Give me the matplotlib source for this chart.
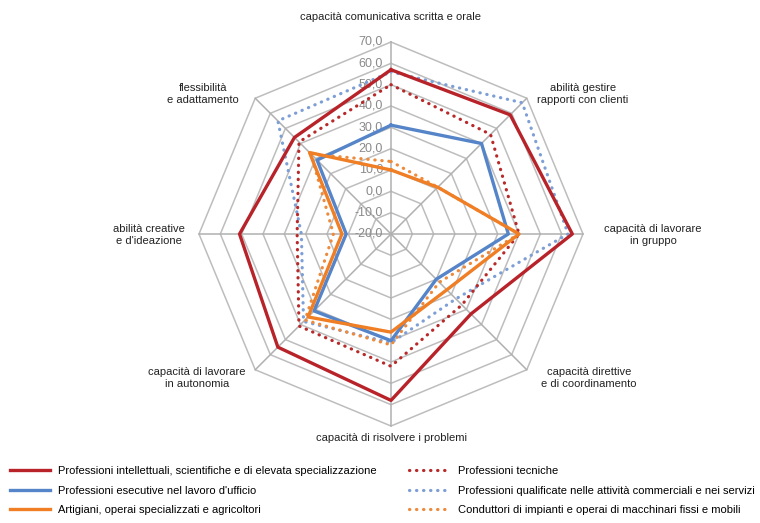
import numpy as np
import matplotlib.pyplot as plt

# competenze (assi del radar, in senso orario dall'alto)
categorie = [
    'capacità comunicativa scritta e orale',
    'abilità gestire\nrapporti con clienti',
    'capacità di lavorare\nin gruppo',
    'capacità direttive\ne di coordinamento',
    'capacità di risolvere i problemi',
    'capacità di lavorare\nin autonomia',
    "abilità creative\ne d'ideazione",
    'flessibilità\ne adattamento',
]

# valori
intellettuali = [57, 59, 65, 33, 58, 55, 51, 44]
tecniche = [50, 46, 40, 27, 42, 41, 24, 41]
esecutive = [31, 40, 35, 10, 30, 31, 1, 29]
qualificate = [56, 67, 63, 23, 31, 38, 22, 55]
artigiani = [10, 11, 40, 17, 26, 35, 3, 34]
conduttori = [14, 11, 40, 12, 32, 37, 7, 33]

tick_vals = [-20, -10, 0, 10, 20, 30, 40, 50, 60, 70]
tick_labels = ['-20,0', '-10,0', '0,0', '10,0', '20,0', '30,0', '40,0', '50,0', '60,0', '70,0']

serie = [
    ('Professioni qualificate nelle attività commerciali e nei servizi', qualificate, '#7d9fd6', 'dot'),
    ('Professioni tecniche', tecniche, '#b8292a', 'dot'),
    ('Conduttori di impianti e operai di macchinari fissi e mobili', conduttori, '#ee8a3c', 'dot'),
    ('Professioni intellettuali, scientifiche e di elevata specializzazione', intellettuali, '#b8232a', 'solid'),
    ('Professioni esecutive nel lavoro d\'ufficio', esecutive, '#5585c8', 'solid'),
    ('Artigiani, operai specializzati e agricoltori', artigiani, '#ef7e25', 'solid'),
]

plt.rcParams['font.family'] = ['Liberation Sans Narrow', 'Liberation Sans', 'DejaVu Sans']

vmin = tick_vals[0]
n = len(categorie)
ang = np.pi / 2 - np.arange(n) * 2 * np.pi / n


def xy(vals):
    r = np.array(vals, dtype=float) - vmin
    r = np.append(r, r[0])
    a = np.append(ang, ang[0])
    return r * np.cos(a), r * np.sin(a)


fig = plt.figure(figsize=(7.6, 5.23), dpi=100)
# centro a (391, 234) px, raggio 192 px per 90 unità
R = 100
size_px = 192 / 90 * 2 * R
ax = fig.add_axes([(391 - size_px / 2) / 760, (289 - size_px / 2) / 523,
                   size_px / 760, size_px / 523])
ax.set_xlim(-R, R)
ax.set_ylim(-R, R)
ax.axis('off')

grid_col = '#bdbdbd'
for t in tick_vals[1:]:
    gx, gy = xy([t] * n)
    ax.plot(gx, gy, color=grid_col, lw=1.1, zorder=1)
rmax = tick_vals[-1] - vmin
for a in ang:
    ax.plot([0, rmax * np.cos(a)], [0, rmax * np.sin(a)], color='#b0b0b0', lw=1.1, zorder=1)

for t, lab in zip(tick_vals, tick_labels):
    ax.annotate(lab, (0, t - vmin), xytext=(-8, 0), textcoords='offset pixels',
                ha='right', va='center', fontsize=9, color='#8a8a8a', zorder=2)

handles = {}
for nome, vals, col, stile in serie:
    px, py = xy(vals)
    if stile == 'dot':
        ln, = ax.plot(px, py, color=col, lw=2.3, linestyle=(0, (0.1, 2.1)),
                      dash_capstyle='round', zorder=3, label=nome)
    else:
        ln, = ax.plot(px, py, color=col, lw=2.4, zorder=4, label=nome)
    handles[nome] = ln

# etichette degli assi
offsets = [(0, 25), (56, 4), (70, -1), (62, -8), (0, -12), (-58, -8), (-50, -1), (-52, 4)]
for cat, a, off in zip(categorie, ang, offsets):
    ax.annotate(cat, (rmax * np.cos(a), rmax * np.sin(a)), xytext=off,
                textcoords='offset pixels', ha='center', va='center',
                fontsize=8, color='#222222', annotation_clip=False)

ordine = [
    'Professioni intellettuali, scientifiche e di elevata specializzazione',
    'Professioni esecutive nel lavoro d\'ufficio',
    'Artigiani, operai specializzati e agricoltori',
    'Professioni tecniche',
    'Professioni qualificate nelle attività commerciali e nei servizi',
    'Conduttori di impianti e operai di macchinari fissi e mobili',
]
fig.legend([handles[k] for k in ordine], ordine, ncol=2, frameon=False,
           loc='lower left', bbox_to_anchor=(0.003, 0.0), fontsize=8,
           handlelength=3.6, handletextpad=0.75, columnspacing=2.9,
           labelspacing=0.85, borderaxespad=0.3)

fig.savefig('out.png', dpi=100, facecolor='white')
